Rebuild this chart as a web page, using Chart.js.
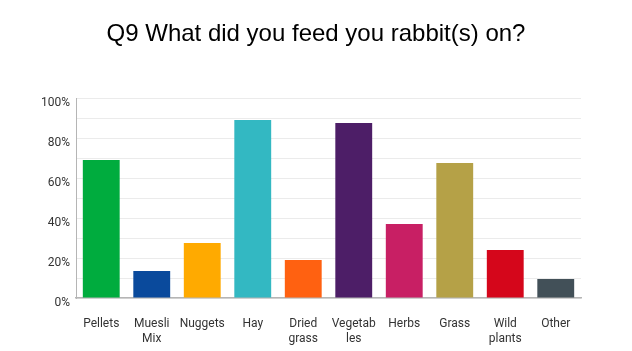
<!DOCTYPE html>
<html>
<head>
<meta charset="utf-8">
<script src="https://cdn.jsdelivr.net/npm/chart.js@4/dist/chart.umd.min.js"></script>
<style>
    html, body { margin: 0; padding: 0; background: #fff; }
    #wrap { width: 632px; height: 351px; }
</style>
</head>
<body>
<div id="wrap"><canvas id="myChart" width="632" height="351"></canvas></div>
<script>
const categories = [
    'Pellets', ['Muesli', 'Mix'], 'Nuggets', 'Hay', ['Dried', 'grass'],
    ['Vegetab', 'les'], 'Herbs', 'Grass', ['Wild', 'plants'], 'Other'
];
const responses = [69, 13.5, 27.5, 89, 19, 87.5, 37, 67.5, 24, 9.5];
const colors = [
    '#00ac3e', '#0a4a9c', '#ffaa00', '#33b8c2', '#ff6111',
    '#4d1e67', '#c81f64', '#b5a147', '#d5061b', '#425058'
];
const y_ticks = [0, 20, 40, 60, 80, 100];
const title_text = 'Q9 What did you feed you rabbit(s) on?';

const tick_font = { family: 'Roboto', size: 12 };

// the title sits centred on the whole page, not on the plot area
const page_title = {
    id: 'page_title',
    afterDraw: chart => {
        const ctx = chart.ctx;
        ctx.save();
        ctx.font = '24px "Liberation Sans"';
        ctx.fillStyle = '#000';
        ctx.textAlign = 'center';
        ctx.textBaseline = 'middle';
        ctx.fillText(title_text, chart.width / 2, 34);
        ctx.restore();
    }
};

new Chart(document.getElementById('myChart').getContext('2d'), {
    type: 'bar',
    data: {
        labels: categories,
        datasets: [{
            data: responses,
            backgroundColor: colors,
            barPercentage: 0.73,
            categoryPercentage: 1
        }]
    },
    plugins: [page_title],
    options: {
        responsive: false,
        animation: false,
        layout: { padding: { left: 0, right: 51, top: 98, bottom: 0 } },
        plugins: {
            legend: { display: false },
            tooltip: { enabled: false },
            title: { display: false }
        },
        scales: {
            x: {
                grid: { display: false },
                border: { color: '#b5b5b5', width: 1.5 },
                ticks: {
                    color: '#333',
                    font: tick_font,
                    maxRotation: 0,
                    autoSkip: false,
                    padding: 11
                },
                afterFit: scale => { scale.height = 53; }
            },
            y: {
                min: 0,
                max: 100,
                grid: {
                    color: '#ebebeb',
                    drawTicks: false
                },
                border: { color: '#b5b5b5', width: 1 },
                ticks: {
                    stepSize: 10,
                    color: '#333',
                    font: tick_font,
                    padding: 6,
                    labelOffset: 5,
                    callback: value => y_ticks.includes(value) ? value + '%' : ''
                },
                afterFit: scale => { scale.width = 76; }
            }
        }
    }
});
</script>
</body>
</html>
